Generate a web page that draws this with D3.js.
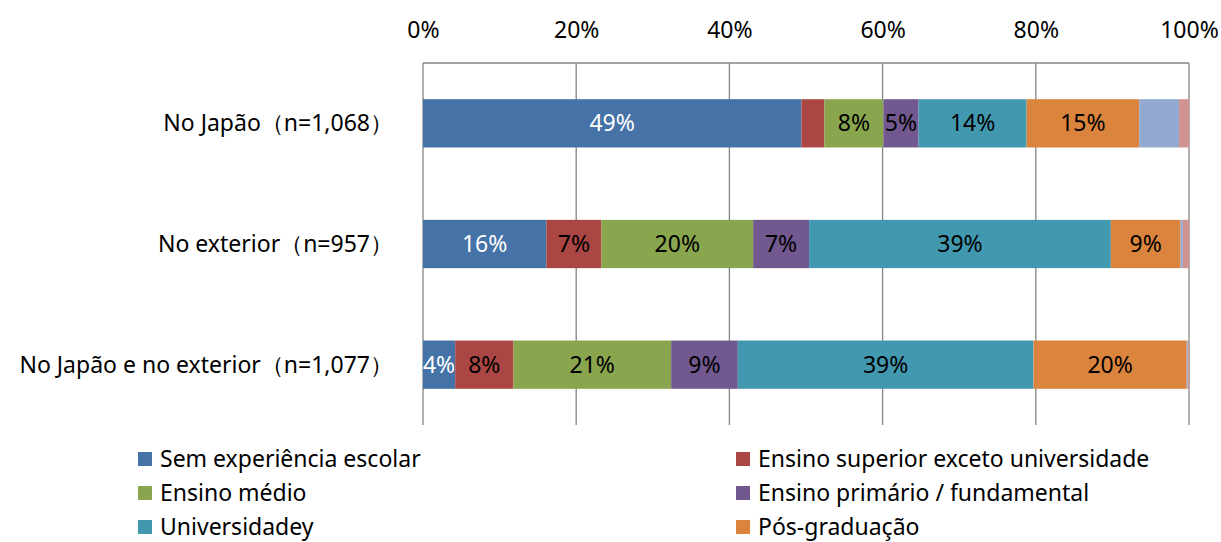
<!DOCTYPE html>
<html>
<head>
<meta charset="utf-8">
<script src="https://cdn.jsdelivr.net/npm/d3@7"></script>
<style>
  html, body { margin: 0; padding: 0; background: #fff; }
  svg { display: block; font-family: "Noto Sans", "Open Sans", sans-serif; }
</style>
</head>
<body>
<svg id="chart" width="1221" height="542"></svg>
<script>
// Respondent groups (rows)
const categories = [
  "No Japão（n=1,068）",
  "No exterior（n=957）",
  "No Japão e no exterior（n=1,077）"
];

// Education levels (stacked segments)
const seriesNames = [
  "Sem experiência escolar",
  "Ensino superior exceto universidade",
  "Ensino médio",
  "Ensino primário / fundamental",
  "Universidadey",
  "Pós-graduação",
  "Outros",
  "Sem resposta"
];

const seriesColors = [
  "#4572A7", "#AA4643", "#89A54E", "#71588F",
  "#4198AF", "#DB843D", "#93A9CF", "#D19392"
];

// Percent shares per series, one value per row
const semExperiencia   = [49.4, 16.1, 4.2];
const ensinoSuperior   = [3.0, 7.2, 7.6];
const ensinoMedio      = [7.7, 19.8, 20.6];
const ensinoPrimario   = [4.6, 7.3, 8.7];
const universidade     = [14.1, 39.4, 38.6];
const posGraduacao     = [14.7, 9.1, 20.0];
const outros           = [5.2, 0.3, 0.15];
const semResposta      = [1.3, 0.8, 0.15];

const seriesValues = [
  semExperiencia, ensinoSuperior, ensinoMedio, ensinoPrimario,
  universidade, posGraduacao, outros, semResposta
];

// Series whose segments carry value labels, and the smallest labelled share
const labelledSeries = [0, 1, 2, 3, 4, 5];
const minLabelValue = 4;

// Number of legend entries that fit in the visible area
const legendCount = 6;

const tickValues = [0, 20, 40, 60, 80, 100];

const FONT = 23;
const svg = d3.select("#chart");
const plot = { left: 423, right: 1189, top: 63, bottom: 425 };

const x = d3.scaleLinear().domain([0, 100]).range([plot.left, plot.right]);
const y = d3.scaleBand()
  .domain(categories)
  .range([plot.top, plot.bottom])
  .paddingInner(0.6)
  .paddingOuter(0.3);

// Build stacked data
const table = categories.map((c, i) => {
  const row = { category: c };
  seriesNames.forEach((s, j) => { row[s] = seriesValues[j][i]; });
  return row;
});
const stacked = d3.stack().keys(seriesNames)(table);

// Vertical gridlines
svg.append("g")
  .selectAll("line")
  .data(tickValues)
  .join("line")
  .attr("x1", d => x(d)).attr("x2", d => x(d))
  .attr("y1", plot.top).attr("y2", plot.bottom)
  .attr("stroke", "#868686")
  .attr("stroke-width", 1.3);

// Top value-axis line
svg.append("line")
  .attr("x1", x(0)).attr("x2", x(100))
  .attr("y1", plot.top).attr("y2", plot.top)
  .attr("stroke", "#868686")
  .attr("stroke-width", 1.3);

// Top axis labels
const axis = d3.axisTop(x).tickValues(tickValues).tickFormat(d => d + "%").tickSize(0).tickPadding(0);
const gAxis = svg.append("g").attr("transform", `translate(0,${plot.top - 25})`).call(axis);
gAxis.select(".domain").remove();
gAxis.selectAll("text")
  .attr("font-size", FONT)
  .attr("fill", "#000")
  .attr("font-family", "\"Noto Sans\", sans-serif");

// Bars
const layers = svg.append("g").selectAll("g")
  .data(stacked)
  .join("g")
  .attr("fill", (d, i) => seriesColors[i]);

layers.selectAll("rect")
  .data(d => d)
  .join("rect")
  .attr("x", d => x(d[0]))
  .attr("y", d => y(d.data.category))
  .attr("width", d => x(d[1]) - x(d[0]))
  .attr("height", y.bandwidth());

// Segment value labels
stacked.forEach((layer, i) => {
  if (!labelledSeries.includes(i)) return;
  svg.append("g").selectAll("text")
    .data(layer.filter(d => d[1] - d[0] >= minLabelValue))
    .join("text")
    .attr("x", d => (x(d[0]) + x(d[1])) / 2)
    .attr("y", d => y(d.data.category) + y.bandwidth() / 2)
    .attr("dy", "0.35em")
    .attr("text-anchor", "middle")
    .attr("font-size", FONT)
    .attr("fill", i === 0 ? "#fff" : "#000")
    .text(d => Math.round(d[1] - d[0]) + "%");
});

// Category labels
svg.append("g").selectAll("text")
  .data(categories)
  .join("text")
  .attr("x", plot.left - 30)
  .attr("y", d => y(d) + y.bandwidth() / 2)
  .attr("dy", "0.35em")
  .attr("text-anchor", "end")
  .attr("font-size", FONT)
  .attr("fill", "#000")
  .text(d => d);

// Legend: two columns
const legendCols = [138, 736];
const legendTop = 459;
const legendStep = 34;
const legend = svg.append("g").selectAll("g")
  .data(seriesNames.slice(0, legendCount))
  .join("g")
  .attr("transform", (d, i) =>
    `translate(${legendCols[i % 2]},${legendTop + Math.floor(i / 2) * legendStep})`);
legend.append("rect")
  .attr("x", 0).attr("y", -7)
  .attr("width", 14).attr("height", 14)
  .attr("fill", (d, i) => seriesColors[i]);
legend.append("text")
  .attr("x", 22)
  .attr("dy", "0.35em")
  .attr("font-size", FONT)
  .attr("fill", "#000")
  .text(d => d);
</script>
</body>
</html>
